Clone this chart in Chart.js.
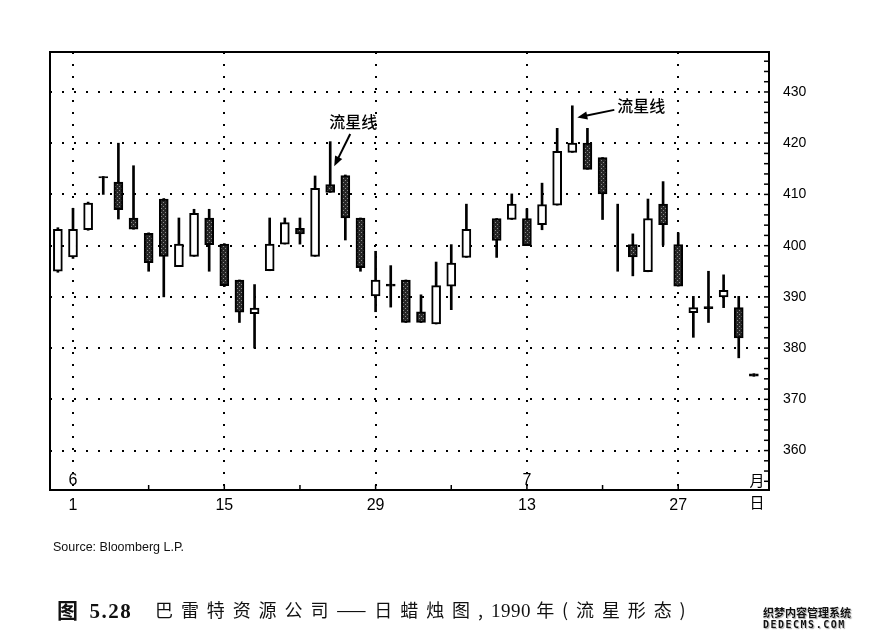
<!DOCTYPE html>
<html>
<head>
<meta charset="utf-8">
<script src="https://cdn.jsdelivr.net/npm/chart.js@4.4.1/dist/chart.umd.min.js"></script>
<style>
  html, body { margin: 0; padding: 0; background: #fff; }
  #wrap { position: relative; width: 873px; height: 642px; overflow: hidden; }
  #c { position: absolute; left: 0; top: 0; }
  .src { position: absolute; left: 53px; top: 540px; font: 12.5px "Liberation Sans", Arial, sans-serif; color: #111; }
  .capA { position: absolute; left: 57px; top: 594px; font: bold 21px "Liberation Serif", "Noto Sans CJK SC"; color: #111; white-space: nowrap; letter-spacing: 1.5px; }
  .capA b { font-family: "Noto Sans CJK SC"; font-weight: 700; margin-right: 10px; }
  .capB { position: absolute; left: 155px; top: 596px; font: 18px "Noto Sans CJK SC"; letter-spacing: 7.9px; color: #111; white-space: nowrap; }
  .capB span { letter-spacing: 0.5px; font-family: "Liberation Serif", serif; font-size: 19px; }
  .wm { position: absolute; left: 763px; top: 606px; font: bold 11px "Noto Sans CJK SC"; color: #111; line-height: 13px;
        text-shadow: 0 0 2px #fff, 1px 1px 1px #999; }
  .wm div:last-child { font: bold 10px "DejaVu Sans Mono", monospace; letter-spacing: 1.5px; }
</style>
</head>
<body>
<div id="wrap">
  <canvas id="c" width="873" height="642"></canvas>
  <div class="src">Source: Bloomberg L.P.</div>
  <div class="capA"><b>图</b>5.28</div>
  <div class="capB">巴雷特资源公司——日蜡烛图,<span>1990 </span>年(流星形态)</div>
  <div class="wm"><div>织梦内容管理系统</div><div>DEDECMS.COM</div></div>
</div>
<script>
// Barrett Resources daily candles, 31 May - 2 Aug 1990 (one slot per weekday, 4 July empty)
const opens  = [395.0,397.8,403.1,413.2,412.4,405.4,402.4,409.1,395.9,397.9,405.4,400.3,393.3,386.7,395.1,400.3,403.4,397.9,411.9,413.7,405.4,390.2,392.1,393.3,387.1,384.7,392.1,397.7,null,405.3,405.1,405.3,404.1,407.9,418.2,420.0,417.2,401.0,400.2,394.9,408.1,400.2,386.9,387.7,390.0,387.9,374.5];
const highs  = [403.5,407.3,408.5,413.5,420.0,415.6,402.5,409.2,405.4,407.1,407.1,400.4,393.3,392.4,405.4,405.4,405.4,413.6,420.3,413.8,405.4,398.9,396.1,393.3,390.4,396.8,400.2,408.1,null,405.3,410.1,407.2,412.2,422.9,427.3,422.9,417.2,408.1,402.3,409.1,412.5,402.5,390.1,395.0,394.3,390.1,375.0];
const lows   = [394.8,397.5,403.0,410.0,405.2,403.2,395.0,390.0,395.9,397.9,395.0,392.0,385.0,380.0,395.1,400.3,400.3,397.9,410.4,401.1,395.0,387.1,388.0,385.0,385.0,384.7,387.5,397.7,null,397.7,405.1,400.0,403.1,407.9,418.2,414.9,405.1,395.0,394.1,394.9,400.1,392.1,382.1,385.0,387.9,378.1,374.5];
const closes = [403.2,403.2,408.3,413.5,407.0,403.2,396.7,397.9,400.3,406.3,400.2,392.2,387.0,387.8,400.3,404.5,402.3,411.2,410.4,405.4,395.7,393.3,392.5,385.0,385.0,392.2,396.6,403.2,null,401.0,408.1,400.0,408.0,418.4,420.0,414.9,410.1,401.0,397.8,405.3,404.1,392.1,387.9,388.1,391.3,382.0,375.0];

const dayTickPos    = [1, 11, 21, 31, 41];
const dayTickLabels = ['1', '15', '29', '13', '27'];
const minorDayTicks = [6, 11, 16, 21, 26, 31, 36, 41];
const monthPos      = [1, 31];
const monthLabels   = ['6', '7'];
const priceTicks    = [360, 370, 380, 390, 400, 410, 420, 430];
const priceMinor    = [354,356,358,360,362,364,366,368,370,372,374,376,378,380,382,384,386,388,390,392,394,396,398,400,402,404,406,408,410,412,414,416,418,420,422,424,426,428,430,432,434,436];

const canvas = document.getElementById('c');
const ctx = canvas.getContext('2d');

// dark speckled fill for falling candles
function darkFill() {
  const p = document.createElement('canvas');
  p.width = 4; p.height = 4;
  const g = p.getContext('2d');
  g.fillStyle = '#262626'; g.fillRect(0, 0, 4, 4);
  g.fillStyle = '#8c8c8c'; g.fillRect(1, 0, 1, 1); g.fillRect(3, 2, 1, 1);
  return ctx.createPattern(p, 'repeat');
}
const dark = darkFill();

const bodies = [], bodyColors = [], wicks = [];
opens.forEach((o, i) => {
  if (o == null) return;
  const c = closes[i];
  bodies.push({ x: i, y: [Math.min(o, c), Math.max(o, c)] });
  // doji-like bodies print as a plain black dash
  bodyColors.push(Math.abs(c - o) < 0.6 ? '#000' : (c >= o ? '#fff' : dark));
  wicks.push({ x: i, y: [lows[i], highs[i]] });
});

function arrow(g, x1, y1, x2, y2) {
  const a = Math.atan2(y2 - y1, x2 - x1), L = 10, W = 4;
  g.beginPath(); g.moveTo(x1, y1); g.lineTo(x2 - L * 0.6 * Math.cos(a), y2 - L * 0.6 * Math.sin(a)); g.stroke();
  g.beginPath();
  g.moveTo(x2, y2);
  g.lineTo(x2 - L * Math.cos(a) + W * Math.sin(a), y2 - L * Math.sin(a) - W * Math.cos(a));
  g.lineTo(x2 - L * Math.cos(a) - W * Math.sin(a), y2 - L * Math.sin(a) + W * Math.cos(a));
  g.closePath(); g.fill();
}

const extras = {
  id: 'extras',
  afterDraw(chart) {
    const g = chart.ctx, a = chart.chartArea, xs = chart.scales.x, ys = chart.scales.y;
    g.save();
    g.strokeStyle = '#000'; g.fillStyle = '#000'; g.lineWidth = 2;
    // top and left frame
    g.beginPath();
    g.moveTo(a.left, a.bottom); g.lineTo(a.left, a.top); g.lineTo(a.right, a.top);
    g.stroke();
    // inside ticks
    g.lineWidth = 1.5;
    priceMinor.forEach(v => {
      const y = ys.getPixelForValue(v);
      g.beginPath(); g.moveTo(a.right - 5, y); g.lineTo(a.right, y); g.stroke();
    });
    minorDayTicks.forEach(v => {
      const x = xs.getPixelForValue(v);
      g.beginPath(); g.moveTo(x, a.bottom - 5); g.lineTo(x, a.bottom); g.stroke();
    });
    // month labels
    g.font = '16px "Liberation Sans", Arial, sans-serif';
    g.textAlign = 'center'; g.textBaseline = 'middle';
    monthPos.forEach((p, i) => g.fillText(monthLabels[i], xs.getPixelForValue(p), a.bottom - 9));
    g.font = '15px "Noto Sans CJK SC"';
    g.fillText('月', a.right - 12, a.bottom - 10);
    g.fillText('日', a.right - 12, a.bottom + 12);
    // shooting star notes
    g.font = '500 16px "Noto Sans CJK SC"';
    g.fillText('流星线', xs.getPixelForValue(18) + 23, ys.getPixelForValue(424.2));
    g.textAlign = 'left';
    g.fillText('流星线', xs.getPixelForValue(34) + 45, ys.getPixelForValue(427.2));
    g.lineWidth = 2;
    arrow(g, xs.getPixelForValue(18) + 20, ys.getPixelForValue(421.8), xs.getPixelForValue(18) + 4, ys.getPixelForValue(415.5));
    arrow(g, xs.getPixelForValue(34) + 42, ys.getPixelForValue(426.5), xs.getPixelForValue(34) + 5, ys.getPixelForValue(425.0));
    g.restore();
  }
};

new Chart(ctx, {
  type: 'bar',
  data: {
    datasets: [
      { data: bodies, backgroundColor: bodyColors, borderColor: '#000', borderWidth: 2,
        borderSkipped: false, barThickness: 9, grouped: false, order: 0 },
      { data: wicks, backgroundColor: '#000', borderWidth: 0,
        barThickness: 2, grouped: false, order: 1 }
    ]
  },
  options: {
    responsive: false,
    animation: false,
    layout: { padding: { left: 50, top: 52, right: 0, bottom: 0 } },
    plugins: { legend: { display: false }, tooltip: { enabled: false } },
    scales: {
      x: {
        type: 'linear', min: -0.52, max: 47.0, offset: false,
        afterBuildTicks: s => { s.ticks = dayTickPos.map(v => ({ value: v })); },
        afterFit: s => { s.height = 152; },
        ticks: {
          autoSkip: false, maxRotation: 0, padding: 6, color: '#000',
          font: { family: '"Liberation Sans", Arial, sans-serif', size: 16 },
          callback: v => dayTickLabels[dayTickPos.indexOf(v)]
        },
        grid: { offset: false, color: '#000', lineWidth: 2, drawTicks: false },
        border: { display: true, color: '#000', width: 2, dash: [2, 10] }
      },
      y: {
        position: 'right', min: 352.3, max: 437.8,
        afterBuildTicks: s => { s.ticks = priceTicks.map(v => ({ value: v })); },
        afterFit: s => { s.width = 104; },
        ticks: {
          padding: 14, color: '#000',
          font: { family: '"Liberation Sans", Arial, sans-serif', size: 14 }
        },
        grid: { color: '#000', lineWidth: 2, drawTicks: false },
        border: { display: true, color: '#000', width: 2, dash: [2, 10] }
      }
    }
  },
  plugins: [extras]
});
</script>
</body>
</html>
